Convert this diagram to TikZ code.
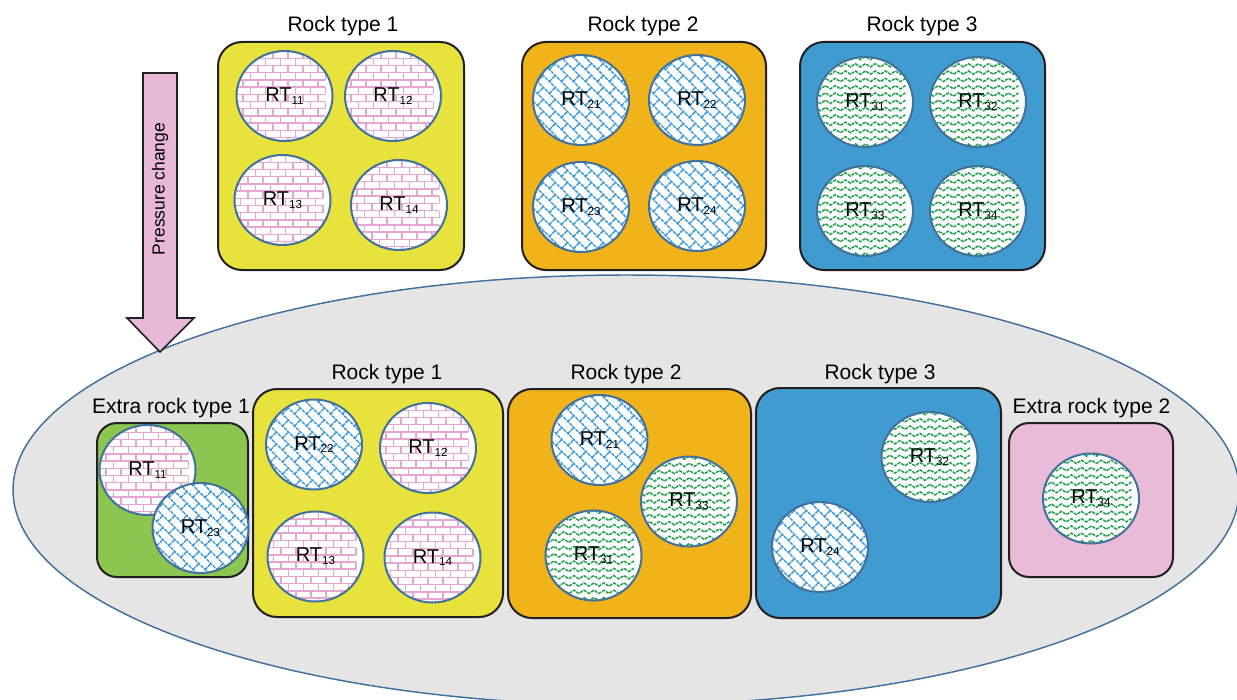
\documentclass[tikz,border=0pt]{standalone}
\usepackage{fontspec}
\setmainfont{Liberation Sans}
\usetikzlibrary{shapes.geometric}

\definecolor{boxedge}{RGB}{35,31,32}
\definecolor{rim}{RGB}{65,113,156}
\definecolor{fieldgrey}{RGB}{230,229,229}
\definecolor{arrowpink}{RGB}{232,184,217}
\definecolor{rockyellow}{RGB}{232,226,60}
\definecolor{rockorange}{RGB}{240,179,26}
\definecolor{rockblue}{RGB}{64,155,208}
\definecolor{rockgreen}{RGB}{140,197,80}
\definecolor{rockpink}{RGB}{233,187,217}
\definecolor{brickpink}{RGB}{230,166,210}
\definecolor{netblue}{RGB}{61,155,219}
\definecolor{wavegreen}{RGB}{30,160,75}

% RT label with its index set lower and smaller
\newcommand{\rtsub}[1]{RT\raisebox{-2pt}{\fontsize{8.7}{9}\selectfont#1}}

% fillings of the samples, drawn inside the ellipse
\newcommand{\brickwall}{%
  \begin{scope}[shift={(path picture bounding box.center)}, color=brickpink, line width=1.1pt]
    \foreach \row in {0,...,14}{
      \draw (-60,{(\row-7)*7.2}) -- (60,{(\row-7)*7.2});
      \foreach \col in {0,...,8}{
        \draw ({(\col-4)*15+mod(\row,2)*7.5},{(\row-7)*7.2}) -- ++(0,7.2);
      }
    }
  \end{scope}}
% same wall turned by 45 degrees, points turned by hand
\newcommand{\brickdiag}{%
  \begin{scope}[shift={(path picture bounding box.center)}, color=netblue, line width=1.1pt, dash pattern=on 2.5pt off 0.7pt]
    \foreach \row in {0,...,16}{
      \pgfmathsetmacro\nety{(\row-8)*8.5}
      \draw ({0.7071*(-70+\nety)},{0.7071*(70+\nety)}) -- ({0.7071*(70+\nety)},{0.7071*(-70+\nety)});
      \foreach \col in {0,...,8}{
        \pgfmathsetmacro\netx{(\col-4)*17+mod(\row,2)*8.5}
        \draw ({0.7071*(\netx+\nety)},{0.7071*(\nety-\netx)}) -- ++(6.01,6.01);
      }
    }
  \end{scope}}
\newcommand{\wavelines}{%
  \begin{scope}[shift={(path picture bounding box.center)}, color=wavegreen, line width=1.1pt, dash pattern=on 2.5pt off 0.8pt]
    \foreach \row in {0,...,14}{
      \draw (-60,{(\row-7)*7.3}) \foreach \k in {1,...,12}{ -- ++(5,-3.3) -- ++(5,3.3) };
    }
  \end{scope}}

\tikzset{every picture/.style={line width=0.75pt}}
\tikzset{
  sample/.style={ellipse, draw=rim, line width=1.5pt, fill=white, minimum width=72pt, minimum height=67.5pt, inner sep=0pt, font=\fontsize{15}{18}\selectfont},
  brickrock/.style={sample, path picture={\brickwall}},
  netrock/.style={sample, path picture={\brickdiag}},
  waverock/.style={sample, path picture={\wavelines}},
  rockbox/.style={draw=boxedge, line width=1.5pt, rounded corners=18pt},
  boxlabel/.style={anchor=base, inner sep=0.75pt, font=\fontsize{15.75}{19}\selectfont},
}

\begin{document}
\begin{tikzpicture}[x=0.75pt,y=0.75pt,yscale=-1,xscale=1]
	\useasboundingbox (0,0) rectangle (1237,699);

	% field after the pressure change
	\draw [draw=rim, line width=1.1pt, fill=fieldgrey] (626,490) ellipse [x radius=459.75pt, y radius=161.25pt];

	% arrow
	\draw [draw=boxedge, line width=1.2pt, fill=arrowpink] (143,73) -- (177,73) -- (177,318) -- (194,318) -- (160,352) -- (127,318) -- (143,318) -- cycle;
	\node (press) at (160,189) [rotate=90, inner sep=0.75pt, font=\fontsize{13.1}{15}\selectfont] {Pressure change};

	% rock types before
	\draw [rockbox, fill=rockyellow] (218,42) rectangle (464,270);
	\draw [rockbox, fill=rockorange] (522,42) rectangle (766,270);
	\draw [rockbox, fill=rockblue] (800,42) rectangle (1045,270);
	\node (top1) at (343,31.7) [boxlabel] {Rock type 1};
	\node (top2) at (643,31.7) [boxlabel] {Rock type 2};
	\node (top3) at (922,31.7) [boxlabel] {Rock type 3};

	\node (t11) at (284.5,96) [brickrock] {\rtsub{11}};
	\node (t12) at (393,96) [brickrock] {\rtsub{12}};
	\node (t13) at (282.5,200) [brickrock] {\rtsub{13}};
	\node (t14) at (399,205) [brickrock] {\rtsub{14}};
	\node (t21) at (581,100) [netrock] {\rtsub{21}};
	\node (t22) at (697,100) [netrock] {\rtsub{22}};
	\node (t23) at (581,207) [netrock] {\rtsub{23}};
	\node (t24) at (697,206) [netrock] {\rtsub{24}};
	\node (t31) at (865,102) [waverock] {\rtsub{31}};
	\node (t32) at (978,102) [waverock] {\rtsub{32}};
	\node (t33) at (865,211) [waverock] {\rtsub{33}};
	\node (t34) at (978,211) [waverock] {\rtsub{34}};

	% rock types after
	\draw [rockbox, rounded corners=15pt, fill=rockgreen] (97,423) rectangle (248,577);
	\draw [rockbox, fill=rockyellow] (253,389) rectangle (503,617);
	\draw [rockbox, fill=rockorange] (508,389) rectangle (751,618);
	\draw [rockbox, fill=rockblue] (756,388) rectangle (1001,618);
	\draw [rockbox, rounded corners=15pt, fill=rockpink] (1009,423) rectangle (1173,577);
	\node (bot0) at (171,413) [boxlabel] {Extra rock type 1};
	\node (bot1) at (387,379) [boxlabel] {Rock type 1};
	\node (bot2) at (626,379) [boxlabel] {Rock type 2};
	\node (bot3) at (880,379) [boxlabel] {Rock type 3};
	\node (bot4) at (1091.5,413) [boxlabel] {Extra rock type 2};

	\node (g11) at (147.5,470) [brickrock] {\rtsub{11}};
	\node (g23) at (200.5,528) [netrock] {\rtsub{23}};
	\node (y22) at (314,444.5) [netrock] {\rtsub{22}};
	\node (y12) at (428,448) [brickrock] {\rtsub{12}};
	\node (y13) at (315.5,556.5) [brickrock] {\rtsub{13}};
	\node (y14) at (432.5,557.5) [brickrock] {\rtsub{14}};
	\node (o21) at (599.5,440) [netrock] {\rtsub{21}};
	\node (o33) at (689,501.5) [waverock] {\rtsub{33}};
	\node (o31) at (593.5,555.5) [waverock] {\rtsub{31}};
	\node (b32) at (929.5,457) [waverock] {\rtsub{32}};
	\node (b24) at (820,547) [netrock] {\rtsub{24}};
	\node (p34) at (1091,498.5) [waverock] {\rtsub{34}};
\end{tikzpicture}
\end{document}
